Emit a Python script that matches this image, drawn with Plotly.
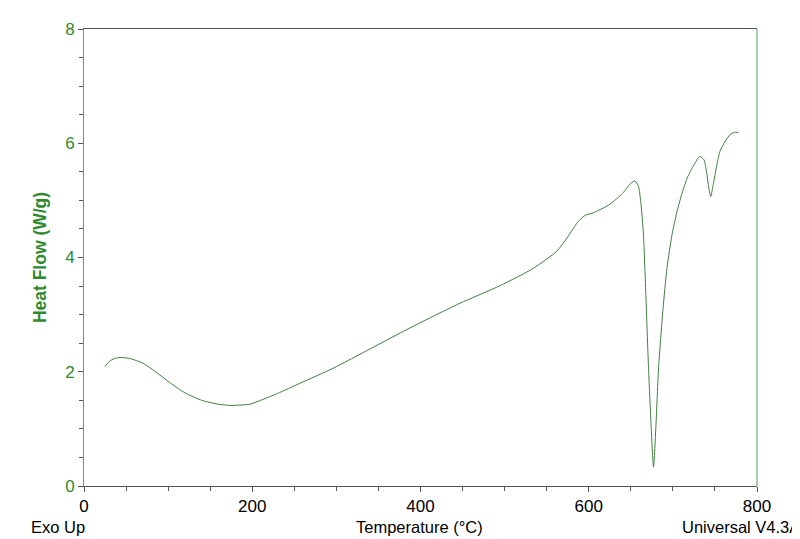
import plotly.graph_objects as go

temperature = [25, 30, 36, 43, 55, 70, 85, 102, 120, 140, 160, 174, 188, 197, 210, 230, 257, 296, 340, 380,
               415, 447, 495, 534, 562, 574, 588, 596, 605, 625, 640, 650, 655, 659, 662, 665, 668, 671, 674,
               677, 680, 683, 688, 693, 699, 705, 711, 717, 725, 732, 737, 740, 742, 745, 748, 752, 756, 762,
               768, 773, 778]
heat_flow = [2.09, 2.18, 2.23, 2.25, 2.23, 2.15, 2.00, 1.81, 1.63, 1.50, 1.43, 1.41, 1.42, 1.43, 1.50, 1.62,
             1.80, 2.06, 2.40, 2.71, 2.97, 3.20, 3.51, 3.81, 4.11, 4.34, 4.64, 4.74, 4.78, 4.93, 5.12, 5.30,
             5.34, 5.25, 4.95, 4.41, 3.30, 2.08, 1.10, 0.33, 1.10, 2.07, 3.05, 3.82, 4.40, 4.81, 5.13, 5.39,
             5.62, 5.77, 5.71, 5.50, 5.28, 5.07, 5.28, 5.60, 5.86, 6.03, 6.15, 6.19, 6.19]

x_ticks = [0, 200, 400, 600, 800]
y_ticks = [0, 2, 4, 6, 8]

GREEN = "#2f8a2f"
FONT = "Liberation Sans, Arial, sans-serif"

fig = go.Figure()
fig.add_trace(go.Scatter(x=temperature, y=heat_flow, mode="lines",
                         line=dict(color="#3f7f3f", width=1, shape="spline", smoothing=0.6),
                         showlegend=False, hoverinfo="skip"))

# page has an 8px body margin, so the figure is 792x531 and offset accordingly
fig.update_layout(
    width=792, height=531,
    margin=dict(l=76, r=43, t=19, b=53),
    paper_bgcolor="white", plot_bgcolor="white",
    font=dict(family=FONT, size=16, color="black"),
    xaxis=dict(range=[0, 800], tickvals=x_ticks, ticktext=[str(v) for v in x_ticks],
               showgrid=False, zeroline=False, showline=True, linecolor="#555555", linewidth=1,
               mirror=True, ticks="outside", ticklen=5, tickcolor="#555555",
               minor=dict(dtick=50, ticks="outside", ticklen=4, tickcolor="#555555"),
               tickfont=dict(family=FONT, size=17, color="black")),
    yaxis=dict(range=[0, 8], tickvals=y_ticks, ticktext=[str(v) for v in y_ticks],
               showgrid=False, zeroline=False, showline=True, linecolor="#6a9a6a", linewidth=1,
               ticks="outside", ticklen=5, tickcolor="#555555",
               minor=dict(dtick=0.5, ticks="outside", ticklen=4, tickcolor="#555555"),
               tickfont=dict(family=FONT, size=17, color=GREEN),
               title=dict(text="<b>Heat Flow (W/g)</b>", font=dict(family=FONT, size=17.5, color=GREEN),
                          standoff=14)),
    shapes=[dict(type="line", xref="paper", yref="paper", x0=1, x1=1, y0=0, y1=1,
                 line=dict(color="#a8cfa8", width=2))],
    annotations=[
        dict(text="Exo Up", xref="paper", yref="paper", x=-0.082, y=-0.089, xanchor="left",
             yanchor="middle", showarrow=False, font=dict(family=FONT, size=16.5, color="black")),
        dict(text="Temperature (°C)", xref="paper", yref="paper", x=0.499, y=-0.089, xanchor="center",
             yanchor="middle", showarrow=False, font=dict(family=FONT, size=16.5, color="black")),
        dict(text="Universal V4.3A", xref="paper", yref="paper", x=0.885, y=-0.089, xanchor="left",
             yanchor="middle", showarrow=False, font=dict(family=FONT, size=16.5, color="black")),
    ],
)

fig.write_html("out.html")
